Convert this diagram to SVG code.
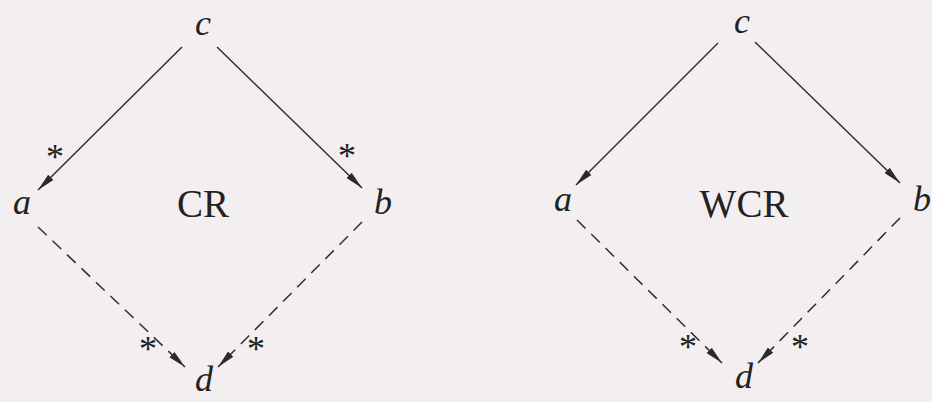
<svg xmlns="http://www.w3.org/2000/svg" width="932" height="402" viewBox="0 0 932 402">
<defs>
<marker id="arr" markerUnits="userSpaceOnUse" markerWidth="20" markerHeight="10" refX="18" refY="5" orient="auto">
<path d="M0,1.3 L18,5 L0,8.7 Z" fill="#2a2a2a"/>
</marker>
<style>
.bg{fill:#f3eff0}
.ln{stroke:#2f2f2f;stroke-width:1.5;fill:none}
.ds{stroke:#2f2f2f;stroke-width:1.5;fill:none;stroke-dasharray:12 8}
.v{font-family:"Liberation Serif",serif;font-style:italic;font-size:36px;fill:#222;text-anchor:middle}
.t{font-family:"Liberation Serif",serif;font-size:39px;fill:#222;text-anchor:middle}
.s{font-family:"Liberation Serif",serif;font-size:36px;fill:#222;text-anchor:middle}
</style>
</defs>
<rect class="bg" x="0" y="0" width="932" height="402"/>
<g id="connectors">
<line class="ln" x1="182" y1="47" x2="38" y2="190" marker-end="url(#arr)"/>
<line class="ln" x1="217" y1="47" x2="362" y2="188" marker-end="url(#arr)"/>
<line class="ds" x1="38" y1="227" x2="185" y2="367" marker-end="url(#arr)"/>
<line class="ds" x1="362" y1="222" x2="218" y2="367" marker-end="url(#arr)"/>
<line class="ln" x1="718" y1="43" x2="576" y2="185" marker-end="url(#arr)"/>
<line class="ln" x1="755" y1="42" x2="900" y2="183" marker-end="url(#arr)"/>
<line class="ds" x1="577" y1="220" x2="722" y2="363" marker-end="url(#arr)"/>
<line class="ds" x1="900" y1="218" x2="758" y2="363" marker-end="url(#arr)"/>
</g>
<g id="stars">
<text class="s" x="55" y="169">*</text>
<text class="s" x="347" y="168">*</text>
<text class="s" x="148" y="361">*</text>
<text class="s" x="256" y="361">*</text>
<text class="s" x="688" y="359">*</text>
<text class="s" x="800" y="359">*</text>
</g>
<g id="cr-c"><text class="v" x="203" y="35">c</text></g>
<g id="cr-a"><text class="v" x="22" y="214">a</text></g>
<g id="cr-b"><text class="v" x="383" y="214">b</text></g>
<g id="cr-d"><text class="v" x="204" y="391">d</text></g>
<g id="cr-label"><text class="t" x="203" y="217">CR</text></g>
<g id="wcr-c"><text class="v" x="742" y="33">c</text></g>
<g id="wcr-a"><text class="v" x="563" y="211">a</text></g>
<g id="wcr-b"><text class="v" x="922" y="211">b</text></g>
<g id="wcr-d"><text class="v" x="744" y="388">d</text></g>
<g id="wcr-label"><text class="t" x="744" y="217">WCR</text></g>
</svg>
